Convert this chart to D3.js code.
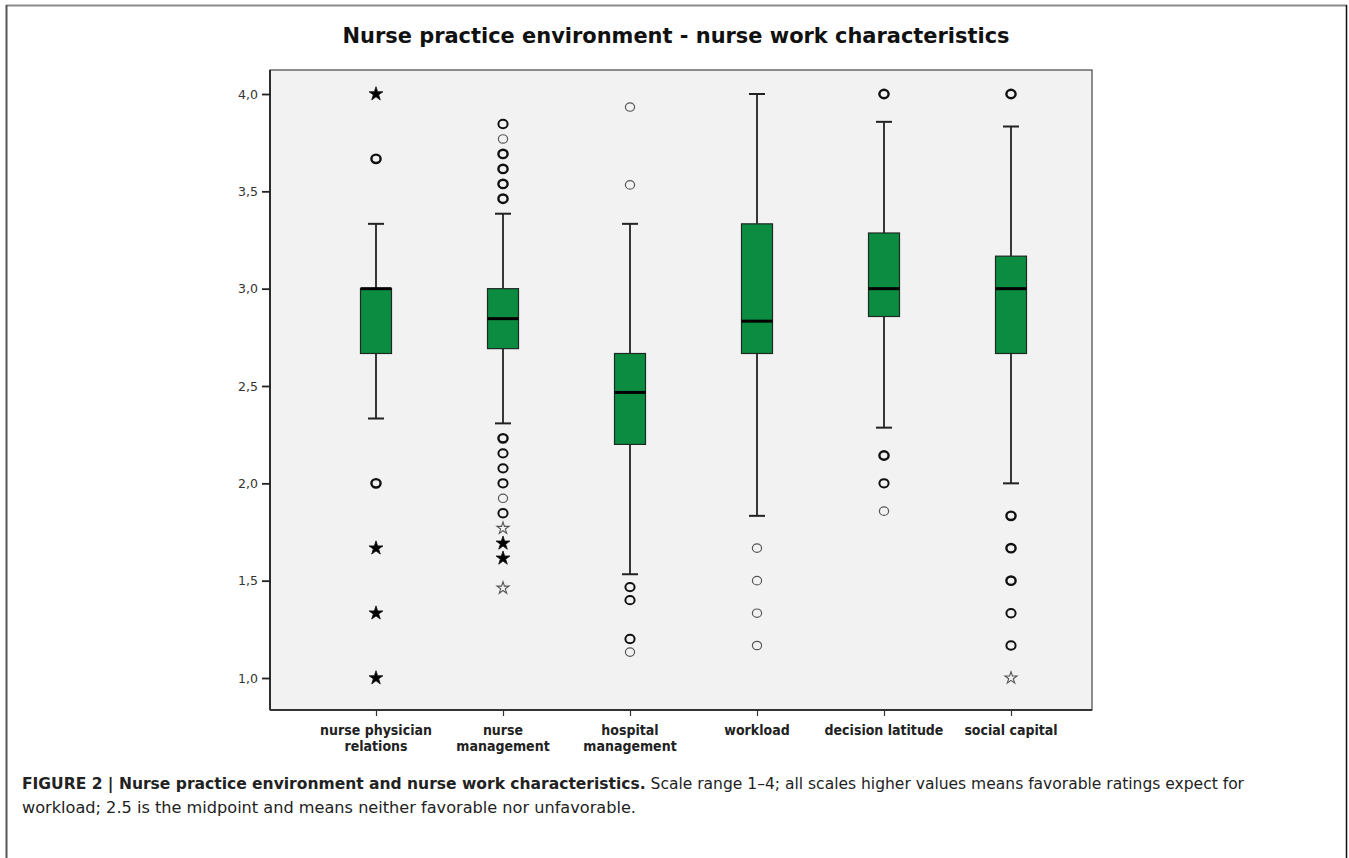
<!DOCTYPE html>
<html><head><meta charset="utf-8">
<script src="https://cdn.jsdelivr.net/npm/d3@7"></script>
<style>body{margin:0;background:#fff}svg{display:block}</style>
</head><body>
<svg id="chart" width="1349" height="858"></svg>
<script>
// ---- data ----
const categories = ["nurse physician relations","nurse management","hospital management","workload","decision latitude","social capital"];
const labelLines = [["nurse physician","relations"],["nurse","management"],["hospital","management"],["workload"],["decision latitude"],["social capital"]];
const q1 = [2.667, 2.692, 2.200, 2.667, 2.857, 2.667];
const medians = [3.000, 2.846, 2.467, 2.833, 3.000, 3.000];
const q3 = [3.000, 3.000, 2.667, 3.333, 3.286, 3.167];
const whiskerLow = [2.333, 2.308, 1.533, 1.833, 2.286, 2.000];
const whiskerHigh = [3.333, 3.385, 3.333, 4.000, 3.857, 3.833];
// outliers: [value, type ("o" outlier, "*" extreme), overlapping cases]
const outliers = [
  [[4.000,"*",2],[3.667,"o",3],[2.000,"o",3],[1.667,"*",2],[1.333,"*",2],[1.000,"*",2]],
  [[3.846,"o",2],[3.769,"o",1],[3.692,"o",3],[3.615,"o",3],[3.538,"o",3],[3.462,"o",3],
   [2.231,"o",3],[2.154,"o",2],[2.077,"o",2],[2.000,"o",2],[1.923,"o",1],[1.846,"o",2],
   [1.769,"*",1],[1.692,"*",2],[1.615,"*",2],[1.462,"*",1]],
  [[3.933,"o",1],[3.533,"o",1],[1.467,"o",2],[1.400,"o",2],[1.200,"o",2],[1.133,"o",1]],
  [[1.667,"o",1],[1.500,"o",1],[1.333,"o",1],[1.167,"o",1]],
  [[4.000,"o",3],[2.143,"o",3],[2.000,"o",2],[1.857,"o",1]],
  [[4.000,"o",3],[1.833,"o",3],[1.667,"o",3],[1.500,"o",3],[1.333,"o",2],[1.167,"o",2],[1.000,"*",1]]
];
const yTicks = [1.0, 1.5, 2.0, 2.5, 3.0, 3.5, 4.0];
const title = "Nurse practice environment - nurse work characteristics";
const captionBold = "FIGURE 2 | Nurse practice environment and nurse work characteristics.";
const captionRest1 = " Scale range 1–4; all scales higher values means favorable ratings expect for";
const captionLine2 = "workload; 2.5 is the midpoint and means neither favorable nor unfavorable.";

// ---- layout ----
const svg = d3.select("#chart");
const plot = {left: 270, right: 1092, top: 70, bottom: 710};
const y = d3.scaleLinear().domain([1, 4]).range([678, 94]);
const x = d3.scalePoint().domain(categories).range([376, 1011]);
const boxW = 31, capW = 16;
const green = "#0c8c40";
const condensed = "'DejaVu Sans Condensed','DejaVu Sans',sans-serif";
const narrow = "'Liberation Sans Narrow','DejaVu Sans Condensed','Liberation Sans',sans-serif";

// outer figure frame
svg.append("line").attr("x1",6).attr("x2",1347).attr("y1",5.5).attr("y2",5.5).attr("stroke","#8a8a8a").attr("stroke-width",2);
svg.append("line").attr("x1",6.5).attr("x2",6.5).attr("y1",5).attr("y2",858).attr("stroke","#555").attr("stroke-width",2);
svg.append("line").attr("x1",1346.5).attr("x2",1346.5).attr("y1",5).attr("y2",858).attr("stroke","#111").attr("stroke-width",1.5);

// title
svg.append("text").attr("x",676).attr("y",43).attr("text-anchor","middle")
  .attr("font-family",condensed).attr("font-weight","bold").attr("font-size",22)
  .attr("textLength",667).attr("lengthAdjust","spacingAndGlyphs")
  .attr("fill","#111").text(title);

// plot background
svg.append("rect").attr("x",plot.left).attr("y",plot.top)
  .attr("width",plot.right-plot.left).attr("height",plot.bottom-plot.top)
  .attr("fill","#f2f2f2").attr("stroke","#444").attr("stroke-width",1.2);

// y axis
const yAxis = d3.axisLeft(y).tickValues(yTicks).tickSize(8).tickPadding(4)
  .tickFormat(d => d3.format(".1f")(d).replace(".", ","));
const gy = svg.append("g").attr("transform",`translate(${plot.left},0)`).call(yAxis);
gy.select(".domain").remove();
gy.selectAll(".tick line").attr("stroke","#222").attr("stroke-width",1.8);
gy.selectAll(".tick text").attr("font-family","'DejaVu Sans',sans-serif").attr("font-size",12.5).attr("fill","#333");
svg.append("line").attr("x1",plot.left).attr("x2",plot.left).attr("y1",plot.top).attr("y2",plot.bottom).attr("stroke","#222").attr("stroke-width",1.8);

// x axis
const xAxis = d3.axisBottom(x).tickSize(6).tickFormat("");
const gx = svg.append("g").attr("transform",`translate(0,${plot.bottom})`).call(xAxis);
gx.select(".domain").remove();
gx.selectAll(".tick line").attr("stroke","#333").attr("stroke-width",1.2);
svg.append("line").attr("x1",plot.left).attr("x2",plot.right).attr("y1",plot.bottom).attr("y2",plot.bottom).attr("stroke","#333").attr("stroke-width",1.8);
categories.forEach((c, i) => {
  const t = svg.append("text").attr("x", x(c)).attr("y", 735).attr("text-anchor","middle")
    .attr("font-family",condensed).attr("font-weight","bold").attr("font-size",14).attr("fill","#222");
  labelLines[i].forEach((ln, j) => t.append("tspan").attr("x", x(c)).attr("dy", j === 0 ? 0 : 16).text(ln));
});

// boxes
const g = svg.append("g");
categories.forEach((c, i) => {
  const cx = x(c);
  // whiskers
  g.append("line").attr("x1",cx).attr("x2",cx).attr("y1",y(q3[i])).attr("y2",y(whiskerHigh[i])).attr("stroke","#222").attr("stroke-width",1.8);
  g.append("line").attr("x1",cx).attr("x2",cx).attr("y1",y(q1[i])).attr("y2",y(whiskerLow[i])).attr("stroke","#222").attr("stroke-width",1.8);
  [whiskerHigh[i], whiskerLow[i]].forEach(v =>
    g.append("line").attr("x1",cx-capW/2).attr("x2",cx+capW/2).attr("y1",y(v)).attr("y2",y(v)).attr("stroke","#222").attr("stroke-width",2));
  // box
  g.append("rect").attr("x",cx-boxW/2).attr("y",y(q3[i])).attr("width",boxW).attr("height",y(q1[i])-y(q3[i]))
    .attr("fill",green).attr("stroke","#1d2a22").attr("stroke-width",1.2);
  // median
  g.append("line").attr("x1",cx-boxW/2).attr("x2",cx+boxW/2).attr("y1",y(medians[i])).attr("y2",y(medians[i])).attr("stroke","#000").attr("stroke-width",3);
  // outliers
  outliers[i].forEach(([v, type, n]) => {
    const bold = n >= 2;
    const sw = n >= 3 ? 2.4 : (n === 2 ? 2.0 : 1.2);
    const col = bold ? "#111" : "#555";
    if (type === "o") {
      g.append("ellipse").attr("cx",cx).attr("cy",y(v)).attr("rx",4.6).attr("ry",4.2)
        .attr("fill","none").attr("stroke",col).attr("stroke-width",sw);
    } else {
      g.append("path").attr("d", d3.symbol(d3.symbolStar, bold ? 60 : 45)())
        .attr("transform",`translate(${cx},${y(v)})`)
        .attr("fill", bold ? "#000" : "none").attr("stroke", col).attr("stroke-width", bold ? 0.8 : 1.1);
    }
  });
});

// caption
const cap1 = svg.append("text").attr("x",22).attr("y",789).attr("font-family",narrow).attr("font-size",16).attr("fill","#222")
  .attr("textLength",1222).attr("lengthAdjust","spacingAndGlyphs");
cap1.append("tspan").attr("font-weight","bold").text(captionBold);
cap1.append("tspan").text(captionRest1);
svg.append("text").attr("x",22).attr("y",813).attr("font-family",narrow).attr("font-size",16).attr("fill","#222")
  .attr("textLength",614).attr("lengthAdjust","spacingAndGlyphs").text(captionLine2);
</script>
</body></html>
